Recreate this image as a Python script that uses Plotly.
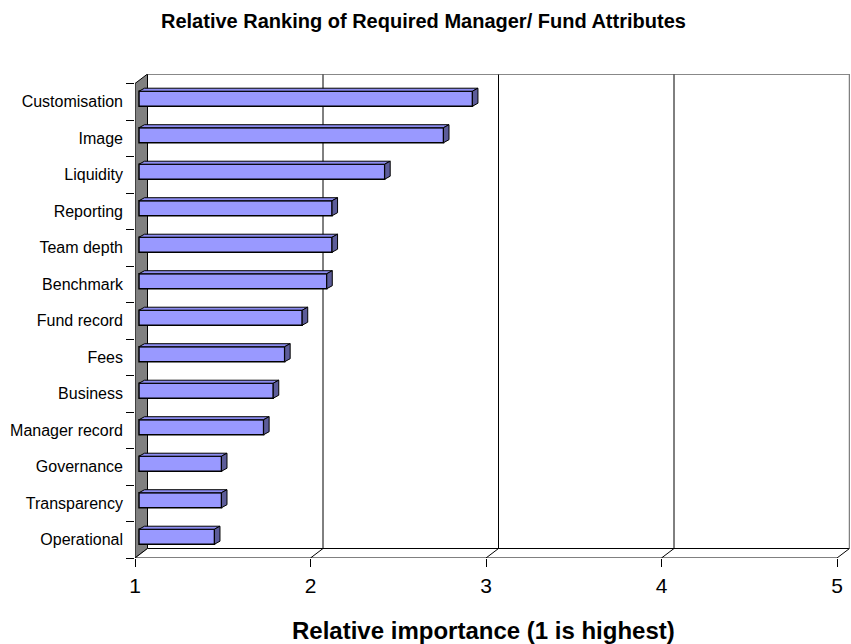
import plotly.graph_objects as go

# ---- data (top to bottom as displayed) ----
categories = ["Customisation", "Image", "Liquidity", "Reporting", "Team depth",
              "Benchmark", "Fund record", "Fees", "Business", "Manager record",
              "Governance", "Transparency", "Operational"]
values = [2.90, 2.735, 2.40, 2.10, 2.10, 2.07, 1.93, 1.83, 1.765, 1.71, 1.47, 1.47, 1.43]
x_ticks = [1, 2, 3, 4, 5]
title_text = "Relative Ranking of Required Manager/ Fund Attributes"
x_title_text = "Relative importance (1 is highest)"

# ---- geometry (pixel-based oblique 3D look) ----
W, H = 851, 644
PL, PR, PT, PB = 135, 850, 74, 558          # plot area in pixels
PX_X = 175.5                                 # px per value unit (front plane)
PX_Y = 36.5                                  # px per category
DX = 12.5 / PX_X                             # depth offset of back wall
DY = 9.5 / PX_Y
BAR_F = 0.32                                 # bar depth position (fraction)
BDX = 5.5 / PX_X                             # bar thickness (depth)
BDY = 3.0 / PX_Y
BAR_W = 15.0 / PX_Y

n = len(categories)
ypos = [n - 1 - i for i in range(n)]
y0, y1 = -0.5, n - 0.5
xr = [1, 1 + (PR - PL) / PX_X]
yr = [y0, y1 + DY]
xmin, xmax = x_ticks[0], x_ticks[-1]

fig = go.Figure()

bar_y = [p + DY * BAR_F for p in ypos]
bar_base = 1 + DX * BAR_F
fig.add_trace(go.Bar(
    orientation="h",
    y=bar_y,
    x=[v - 1 for v in values],
    base=bar_base,
    width=BAR_W,
    marker=dict(color="#9999FF", line=dict(color="black", width=1.5)),
    customdata=[[c, v] for c, v in zip(categories, values)],
    hovertemplate="%{customdata[0]}: %{customdata[1]}<extra></extra>",
))

shapes = []
line_k = dict(color="black", width=1)
# left wall
shapes.append(dict(type="path", xref="x", yref="y", layer="below",
                   path=f"M {xmin},{y0} L {xmin+DX},{y0+DY} L {xmin+DX},{y1+DY} L {xmin},{y1} Z",
                   fillcolor="#808080", line=line_k))
# floor
shapes.append(dict(type="path", xref="x", yref="y", layer="below",
                   path=f"M {xmin},{y0} L {xmax},{y0} L {xmax+DX},{y0+DY} L {xmin+DX},{y0+DY} Z",
                   fillcolor="white", line=line_k))
for k in x_ticks[1:-1]:
    shapes.append(dict(type="line", xref="x", yref="y", layer="below",
                       x0=k, y0=y0, x1=k + DX, y1=y0 + DY, line=line_k))
    shapes.append(dict(type="line", xref="x", yref="y", layer="below",
                       x0=k + DX, y0=y0 + DY, x1=k + DX, y1=y1 + DY, line=line_k))
# back wall top and right edges
shapes.append(dict(type="line", xref="x", yref="y", layer="below",
                   x0=xmin + DX, y0=y1 + DY, x1=xmax + DX, y1=y1 + DY,
                   line=dict(color="#606060", width=1.5)))
shapes.append(dict(type="line", xref="x", yref="y", layer="below",
                   x0=xmax + DX, y0=y0 + DY, x1=xmax + DX, y1=y1 + DY,
                   line=dict(color="#808080", width=1.5)))

# bar top and side faces
for by, v in zip(bar_y, values):
    xe = v + DX * BAR_F
    top = by + BAR_W / 2
    bot = by - BAR_W / 2
    shapes.append(dict(type="path", xref="x", yref="y", layer="above",
                       path=f"M {bar_base},{top} L {bar_base+BDX},{top+BDY} L {xe+BDX},{top+BDY} L {xe},{top} Z",
                       fillcolor="#8C8CF0", line=dict(color="black", width=1)))
    shapes.append(dict(type="path", xref="x", yref="y", layer="above",
                       path=f"M {xe},{bot} L {xe},{top} L {xe+BDX},{top+BDY} L {xe+BDX},{bot+BDY} Z",
                       fillcolor="#5C5C99", line=dict(color="black", width=1)))

font_family = "Liberation Sans, Arial, sans-serif"

fig.update_layout(
    width=W, height=H,
    margin=dict(l=PL, r=W - PR, t=PT, b=H - PB, pad=0),
    paper_bgcolor="white", plot_bgcolor="white",
    showlegend=False,
    font=dict(family=font_family, color="black"),
    shapes=shapes,
    xaxis=dict(range=xr, tickvals=x_ticks, ticks="outside", ticklen=8,
               tickcolor="black", tickwidth=1, showgrid=False, zeroline=False,
               showline=False, tickfont=dict(size=21), ticklabelstandoff=1),
    yaxis=dict(range=yr, tickvals=ypos, ticktext=categories, ticks="",
               showgrid=False, zeroline=False, showline=False,
               tickfont=dict(size=16), ticklabelstandoff=11,
               minor=dict(tick0=-0.5, dtick=1, ticks="outside", ticklen=8,
                          tickcolor="black", tickwidth=1, showgrid=False)),
    annotations=[
        dict(text=f"<b>{title_text}</b>", xref="paper", yref="paper",
             x=(423.5 - PL) / (PR - PL), y=1 + (PT - 21) / (PB - PT),
             xanchor="center", yanchor="middle", showarrow=False,
             font=dict(size=20)),
        dict(text=f"<b>{x_title_text}</b>", xref="paper", yref="paper",
             x=(483 - PL) / (PR - PL), y=-(630 - PB) / (PB - PT),
             xanchor="center", yanchor="middle", showarrow=False,
             font=dict(size=24)),
    ],
)

fig.write_html("out.html",
               config={"displayModeBar": False},
               post_script="document.body.style.margin='0';document.body.style.overflow='hidden';")
